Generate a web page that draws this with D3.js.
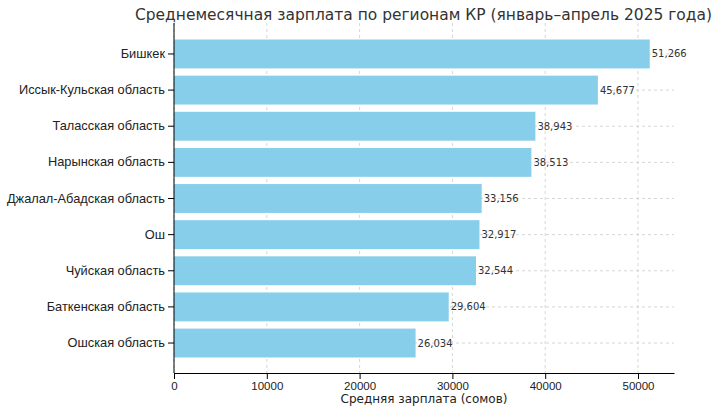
<!DOCTYPE html>
<html><head><meta charset="utf-8">
<script src="https://cdn.jsdelivr.net/npm/d3@7"></script>
<style>body{margin:0;background:#fff}svg{font-family:"DejaVu Sans",sans-serif}</style>
</head><body><svg id="c" width="720" height="411"></svg>
<script>
const regions=["Бишкек","Иссык-Кульская область","Таласская область","Нарынская область","Джалал-Абадская область","Ош","Чуйская область","Баткенская область","Ошская область"];
const salaries=[51266,45677,38943,38513,33156,32917,32544,29604,26034];
const xTicks=[0,10000,20000,30000,40000,50000];
const title="Среднемесячная зарплата по регионам КР (январь–апрель 2025 года)";
const xLabel="Средняя зарплата (сомов)";

const svg=d3.select("#c");
const L=174,R=674,T=23,B=373;
const x=d3.scaleLinear().domain([0,53880]).range([L,R]);
const y=d3.scaleBand().domain(regions).range([35.9,361.1]).paddingInner(0.2).paddingOuter(0.1);

svg.append("g").selectAll("line").data(xTicks).join("line")
 .attr("x1",d=>x(d)).attr("x2",d=>x(d)).attr("y1",T).attr("y2",B)
 .attr("stroke","#ccc").attr("stroke-dasharray","3,3").attr("stroke-width",0.8);
svg.append("g").selectAll("line").data(regions).join("line")
 .attr("x1",L).attr("x2",R).attr("y1",d=>y(d)+y.bandwidth()/2).attr("y2",d=>y(d)+y.bandwidth()/2)
 .attr("stroke","#ccc").attr("stroke-dasharray","3,3").attr("stroke-width",0.8);

svg.append("g").selectAll("rect").data(regions).join("rect")
 .attr("x",x(0)).attr("y",d=>y(d)).attr("height",y.bandwidth())
 .attr("width",(d,i)=>x(salaries[i])-x(0)).attr("fill","#87CEEB");

svg.append("g").selectAll("text").data(regions).join("text")
 .attr("x",(d,i)=>x(salaries[i])+2).attr("y",d=>y(d)+y.bandwidth()/2).attr("dy","0.35em")
 .attr("font-size",10).attr("fill","#333").text((d,i)=>d3.format(",")(salaries[i]));

const xa=svg.append("g").attr("transform",`translate(0,${B})`)
 .call(d3.axisBottom(x).tickValues(xTicks).tickFormat(d3.format("d")).tickSizeOuter(0));
xa.select(".domain").attr("stroke","#000");
xa.selectAll("text").attr("font-size",11.5).attr("fill","#222");
const ya=svg.append("g").attr("transform",`translate(${L},0)`)
 .call(d3.axisLeft(y).tickSizeOuter(0));
ya.select(".domain").attr("d",`M0,${T}V${B}`).attr("stroke","#000");
ya.selectAll("text").attr("font-size",12.8).attr("fill","#222");

svg.append("text").attr("x",135).attr("y",20)
 .attr("textLength",577).attr("lengthAdjust","spacingAndGlyphs")
 .attr("font-size",16).attr("fill","#333").text(title);
svg.append("text").attr("x",424).attr("y",403).attr("text-anchor","middle")
 .attr("font-size",12).attr("fill","#222").text(xLabel);
</script></body></html>
